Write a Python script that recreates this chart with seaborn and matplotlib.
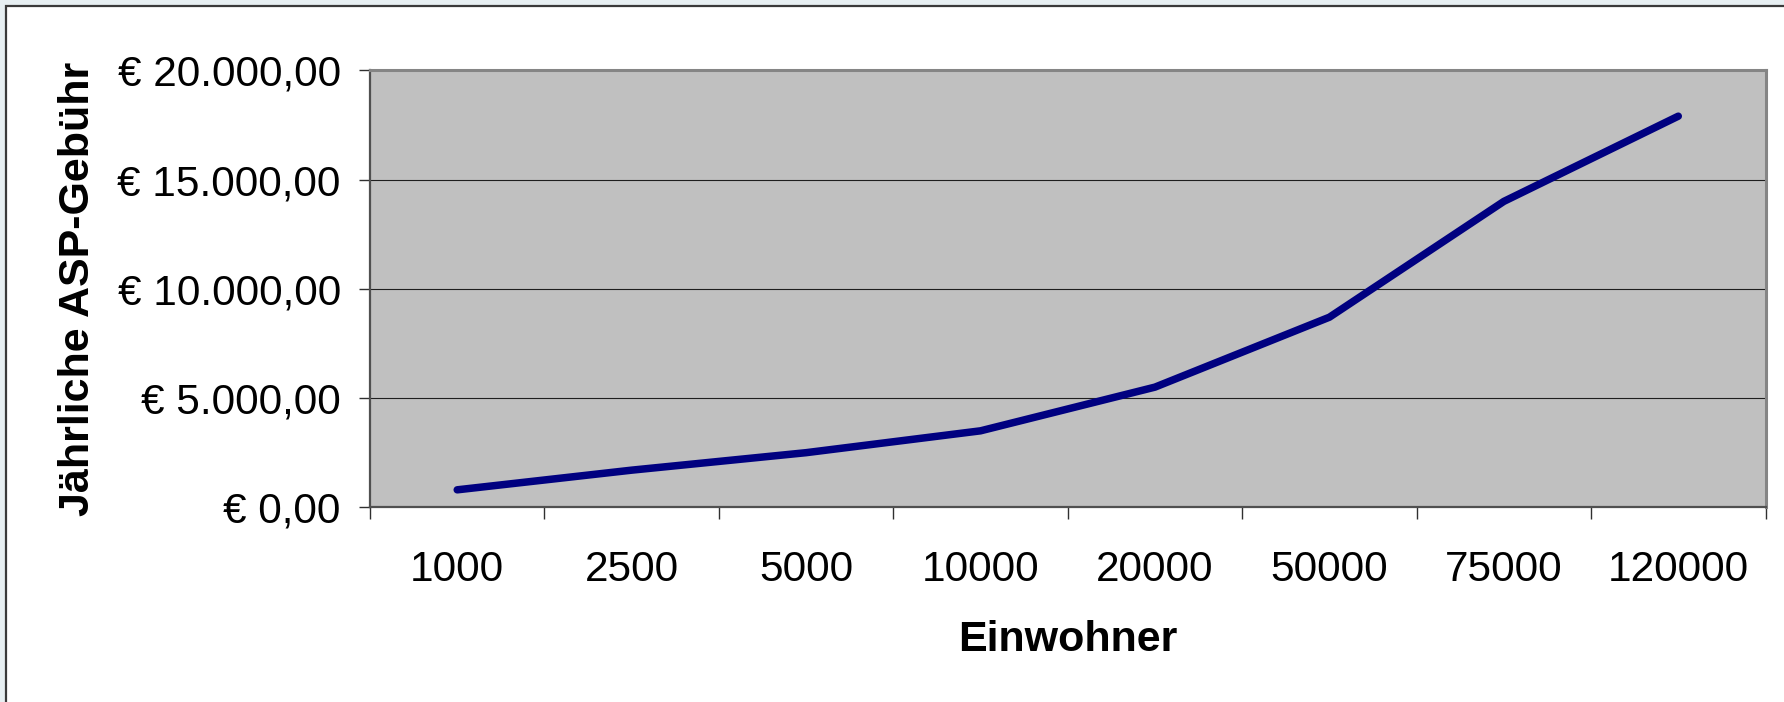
import matplotlib
matplotlib.use("Agg")
import matplotlib.pyplot as plt
import seaborn as sns
import pandas as pd
import numpy as np
from matplotlib.patches import Rectangle
from matplotlib.ticker import FixedLocator, FuncFormatter

# Annual ASP fee by number of inhabitants
einwohner = ["1000", "2500", "5000", "10000", "20000", "50000", "75000", "120000"]
gebuehr = [800, 1700, 2500, 3500, 5500, 8700, 14000, 17900]
y_ticks = [0, 5000, 10000, 15000, 20000]

df = pd.DataFrame({"pos": np.arange(len(einwohner)), "gebuehr": gebuehr})

sns.set_theme(style="white")
plt.rcParams["font.family"] = ["Liberation Sans", "DejaVu Sans"]

W, H = 1784, 702
fig = plt.figure(figsize=(W / 100, H / 100), dpi=100, facecolor="#e7eff2")

# white chart sheet with dark frame, kept behind the axes
sheet = Rectangle((6 / W, -0.05), 1.1, 1 - 5.5 / H + 0.05,
                  transform=fig.transFigure, facecolor="white",
                  edgecolor="#3a3a3a", linewidth=1.6, zorder=-10)
fig.add_artist(sheet)

left, right, top, bottom = 370, 1765.5, 70.3, 507.3
ax = fig.add_axes([left / W, 1 - bottom / H, (right - left) / W, (bottom - top) / H])
ax.set_zorder(1)
ax.set_facecolor("#c0c0c0")

sns.lineplot(data=df, x="pos", y="gebuehr", color="#000080", linewidth=5.4,
             solid_capstyle="round", solid_joinstyle="round", ax=ax, zorder=3)

ax.set_xlim(-0.5, len(einwohner) - 0.5)
ax.set_ylim(y_ticks[0], y_ticks[-1])

# category labels at centres, tick marks at category borders
ax.xaxis.set_major_locator(FixedLocator(df["pos"].tolist()))
ax.set_xticklabels(einwohner)
ax.xaxis.set_minor_locator(FixedLocator(list(np.arange(len(einwohner) + 1) - 0.5)))
ax.tick_params(axis="x", which="major", length=0, pad=30.5, labelsize=30.5, labelcolor="black")
ax.tick_params(axis="x", which="minor", length=8.5, width=1.0, color="#303030",
               direction="out", bottom=True)

def euro(v, _):
    s = f"{v:,.2f}".replace(",", "X").replace(".", ",").replace("X", ".")
    return f"€ {s}"

ax.yaxis.set_major_locator(FixedLocator(y_ticks))
ax.yaxis.set_major_formatter(FuncFormatter(euro))
ax.tick_params(axis="y", which="major", length=8, width=1.0, color="#303030",
               direction="out", left=True, pad=13, labelsize=30.5, labelcolor="black")

ax.yaxis.grid(True, color="#1e1e1e", linewidth=0.8)
ax.xaxis.grid(False)
ax.set_axisbelow(True)

for side in ("left", "bottom"):
    ax.spines[side].set_color("#505050")
    ax.spines[side].set_linewidth(1.6)
for side in ("top", "right"):
    ax.spines[side].set_color("#858585")
    ax.spines[side].set_linewidth(2.2)

ax.set_xlabel("Einwohner", fontsize=31, fontweight="bold", color="black")
ax.set_ylabel("Jährliche ASP-Gebühr", fontsize=31, fontweight="bold", color="black")
ax.xaxis.set_label_coords(0.5, (bottom - 620) / (bottom - top))
ax.yaxis.set_label_coords((98 - left) / (right - left), 0.5)

fig.savefig("out.png", dpi=100, facecolor=fig.get_facecolor())
